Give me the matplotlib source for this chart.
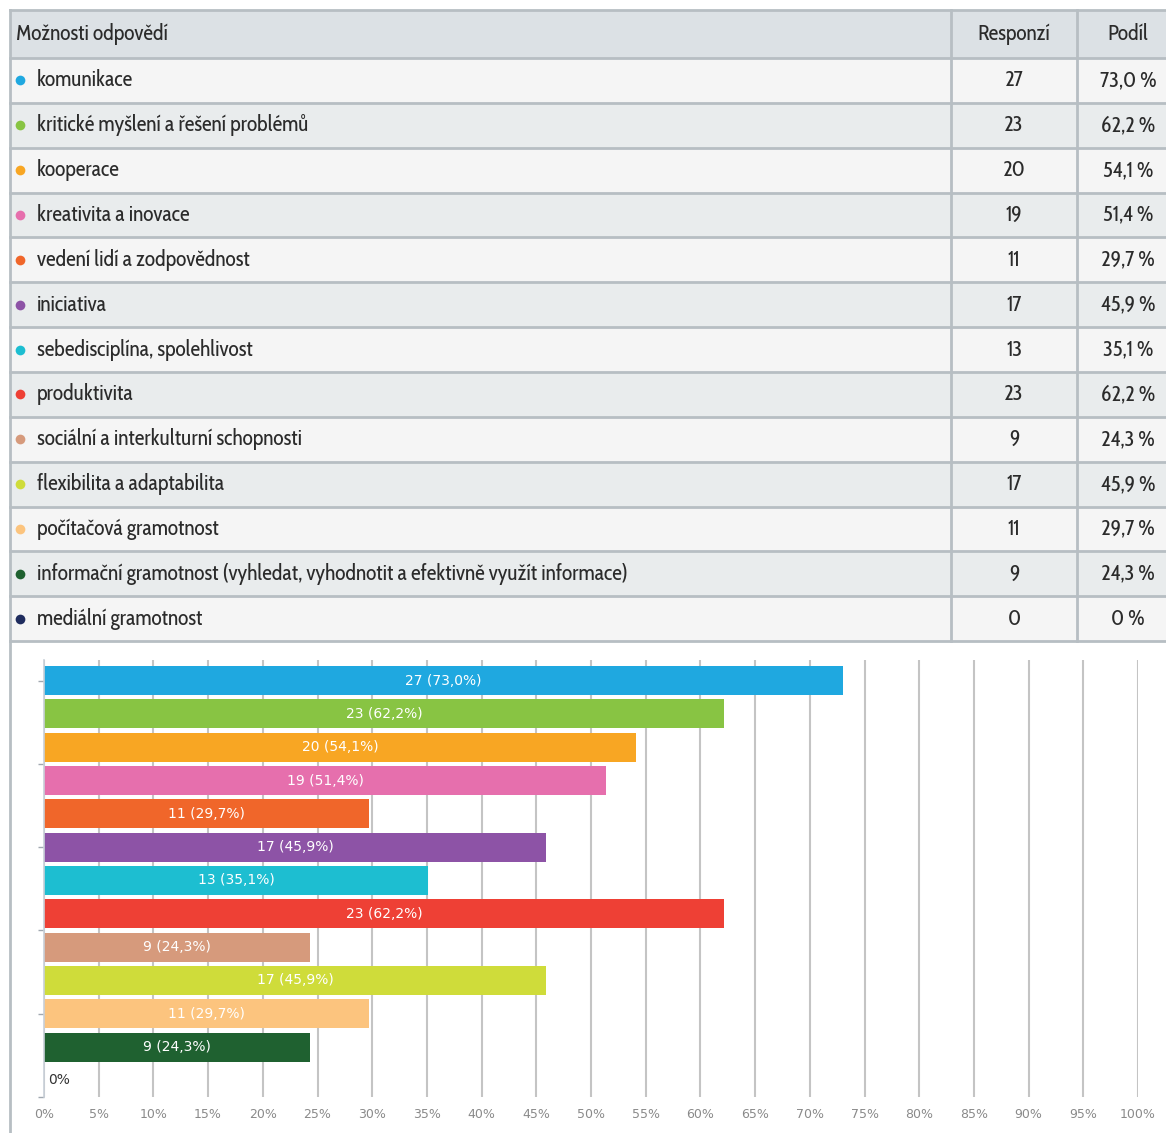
import matplotlib
matplotlib.use("Agg")
import matplotlib.pyplot as plt
from matplotlib import font_manager
from matplotlib.ft2font import FT2Font

# answer options, counts and shares (%)
options = [
    "komunikace",
    "kritické myšlení a řešení problémů",
    "kooperace",
    "kreativita a inovace",
    "vedení lidí a zodpovědnost",
    "iniciativa",
    "sebedisciplína, spolehlivost",
    "produktivita",
    "sociální a interkulturní schopnosti",
    "flexibilita a adaptabilita",
    "počítačová gramotnost",
    "informační gramotnost (vyhledat, vyhodnotit a efektivně využít informace)",
    "mediální gramotnost",
]
counts = [27, 23, 20, 19, 11, 17, 13, 23, 9, 17, 11, 9, 0]
shares = [73.0, 62.2, 54.1, 51.4, 29.7, 45.9, 35.1, 62.2, 24.3, 45.9, 29.7, 24.3, 0.0]
colors = ["#1fa8e0", "#88c443", "#f8a623", "#e66fad", "#f0662a", "#8d53a6",
          "#1dbed1", "#ee4035", "#d69a7c", "#cfdc3a", "#fcc47e", "#1f6130", "#1f2c5e"]
headers = ["Možnosti odpovědí", "Responzí", "Podíl"]
xticks = list(range(0, 101, 5))

W, H = 1166, 1133
DPI = 100
FS = 15.5
LONG_W = 594  # pixel width wanted for the longest option at FS


def text_width(fname, s, size):
    f = FT2Font(fname)
    f.set_size(size, DPI)
    f.set_text(s, 0.0)
    return f.get_width_height()[0] / 64.0


def pick_narrow_font():
    # choose the condensed regular face whose width suits the table best
    best, best_err, best_w = None, None, None
    for f in font_manager.fontManager.ttflist:
        tag = (f.name + " " + f.fname).lower()
        stretch = str(f.stretch).lower()
        if not ("narrow" in tag or "condensed" in tag or "condensed" in stretch):
            continue
        if f.style != "normal" or f.weight not in (400, "normal", "regular"):
            continue
        if any(k in tag for k in ("bold", "light", "medium", "thin", "black", "italic")):
            continue
        try:
            w = text_width(f.fname, options[11], FS)
        except Exception:
            continue
        err = abs(w - LONG_W)
        if best is None or err < best_err:
            best, best_err, best_w = f.fname, err, w
    return best, best_w


narrow_file, w_long = pick_narrow_font()
if narrow_file:
    narrow_fp = font_manager.FontProperties(fname=narrow_file)
    fs = FS * min(1.0, LONG_W / w_long)
else:
    narrow_fp = font_manager.FontProperties(family="DejaVu Sans")
    fs = 12.5

fig = plt.figure(figsize=(W / DPI, H / DPI), dpi=DPI)
fig.patch.set_facecolor("white")


def fmt(v):
    return f"{v:.1f}".replace(".", ",")


# ---- table, laid out in pixel units ----
tab = fig.add_axes([0, 0, 1, 1])
tab.set_xlim(0, W)
tab.set_ylim(H, 0)
tab.axis("off")

top, head_h, row_h = 10, 48, 44.85
left, col1, col2 = 10, 951, 1077
line_c = "#b7bec3"
txt_c = "#2b2b2b"

tab.add_patch(plt.Rectangle((left, top), W - left, head_h, fc="#dce1e5", ec="none"))
for i in range(len(options)):
    y0 = top + head_h + i * row_h
    fc = "#f5f5f5" if i % 2 == 0 else "#e9eced"
    tab.add_patch(plt.Rectangle((left, y0), W - left, row_h, fc=fc, ec="none"))

bottom = top + head_h + len(options) * row_h
for k in range(len(options) + 2):
    y = top if k == 0 else top + head_h + (k - 1) * row_h
    tab.plot([left, W], [y, y], color=line_c, lw=2)
for x in (left, col1, col2):
    tab.plot([x, x], [top, bottom], color=line_c, lw=2)

tkw = dict(fontproperties=narrow_fp, fontsize=fs, color=txt_c, va="center")
hy = top + head_h / 2
c_resp = (col1 + col2) / 2
c_share = 1128
tab.text(16, hy, headers[0], **tkw)
tab.text(c_resp, hy, headers[1], ha="center", **tkw)
tab.text(c_share, hy, headers[2], ha="center", **tkw)

for i, (name, n, s, c) in enumerate(zip(options, counts, shares, colors)):
    yc = top + head_h + (i + 0.5) * row_h
    tab.plot(20, yc, "o", ms=7, color=c, mec="none")
    tab.text(37, yc, name, **tkw)
    tab.text(c_resp, yc, str(n), ha="center", **tkw)
    share_txt = "0 %" if s == 0 else fmt(s) + " %"
    tab.text(c_share, yc, share_txt, ha="center", **tkw)

# frame line on the left of the chart block
tab.plot([left, left], [bottom, H], color=line_c, lw=2)

# ---- bar chart ----
ax_top, ax_bot = 660, 1097
ax = fig.add_axes([44 / W, (H - ax_bot) / H, 1094 / W, (ax_bot - ax_top) / H])
ypos = list(range(len(options)))
ax.barh(ypos, shares, height=0.87, color=colors, zorder=2)
ax.set_xlim(0, 100)
ax.set_ylim(12.5, -0.62)

for y, n, s in zip(ypos, counts, shares):
    if n == 0:
        ax.text(0.35, y, "0%", family="DejaVu Sans", color="#333333", fontsize=10,
                va="center", ha="left", zorder=3)
    else:
        ax.text(s / 2, y, f"{n} ({fmt(s)}%)", family="DejaVu Sans", color="white",
                fontsize=10, va="center", ha="center", zorder=3)

ax.set_xticks(xticks)
ax.set_xticklabels([f"{t}%" for t in xticks], family="DejaVu Sans")
ax.xaxis.grid(True, color="#c4c4c4", lw=1.5, zorder=0)
ax.set_axisbelow(True)
ax.tick_params(axis="x", length=0, pad=8, labelsize=9, labelcolor="#8a8a8a")
ax.set_yticks([0, 2.5, 5, 7.5, 10, 12.5])
ax.set_yticklabels([])
ax.tick_params(axis="y", length=4, color="#a0a8b0", width=1)
for side in ("top", "right", "bottom"):
    ax.spines[side].set_visible(False)
ax.spines["left"].set_color("#c8d0d8")
ax.spines["left"].set_linewidth(1.2)
ax.set_facecolor("none")

fig.savefig("out.png", dpi=DPI, facecolor="white")
